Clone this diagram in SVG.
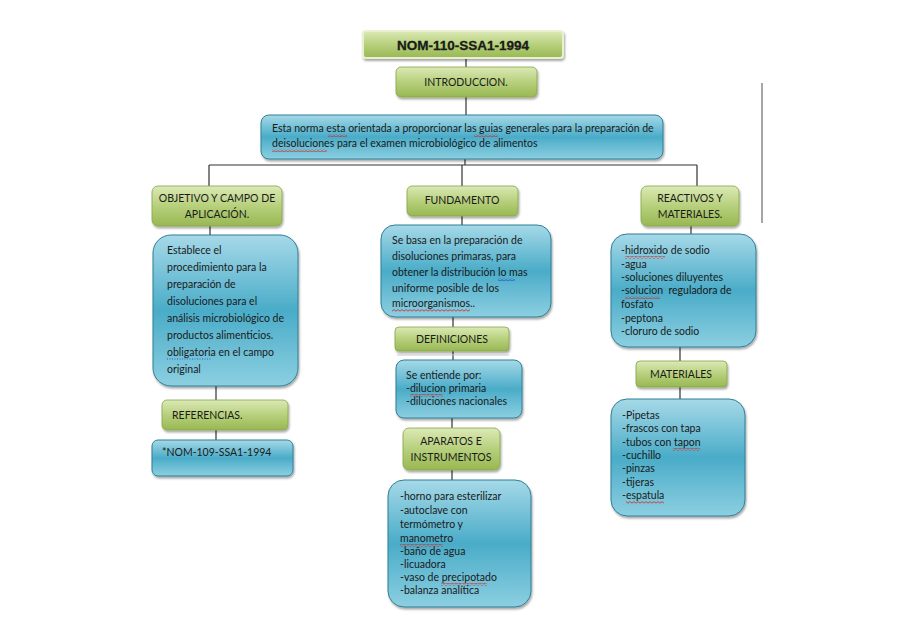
<svg xmlns="http://www.w3.org/2000/svg" width="906" height="640" viewBox="0 0 906 640">
<defs>
<linearGradient id="gG" x1="0" y1="0" x2="0" y2="1">
<stop offset="0" stop-color="#dce9b6"/>
<stop offset="0.5" stop-color="#b7d07c"/>
<stop offset="1" stop-color="#98b853"/>
</linearGradient>
<linearGradient id="gB" x1="0" y1="0" x2="0" y2="1">
<stop offset="0" stop-color="#a6d9e8"/>
<stop offset="0.5" stop-color="#4aacc8"/>
<stop offset="1" stop-color="#8ccfe1"/>
</linearGradient>
<filter id="sh" x="-10%" y="-10%" width="120%" height="130%">
<feDropShadow dx="1" dy="2" stdDeviation="1.2" flood-color="#000" flood-opacity="0.35"/>
</filter>
<pattern id="sqR" width="4" height="3" patternUnits="userSpaceOnUse">
<path d="M0 2.2L2 0.6L4 2.2" fill="none" stroke="#d42020" stroke-width="0.8"/>
</pattern>
<pattern id="sqB" width="4" height="3" patternUnits="userSpaceOnUse">
<path d="M0 2.2L2 0.6L4 2.2" fill="none" stroke="#2040d0" stroke-width="0.8"/>
</pattern>
</defs>
<style>
.g{fill:url(#gG);stroke:#87a545;stroke-width:0.8;filter:url(#sh)}
.b{fill:url(#gB);stroke:#2f7f96;stroke-width:1;filter:url(#sh)}
.t{font-family:Lato,"Liberation Sans",sans-serif;font-size:10.5px;fill:#1a1a1a}
.c{text-anchor:middle}
.ln{stroke:#333;stroke-width:1.2;fill:none}
.r{fill:url(#sqR)}
.u{fill:url(#sqB)}
</style>
<rect width="906" height="640" fill="#fff"/>
<g id="connectors">
<path class="ln" d="M466 58V67M466 97V115M465 159V165M209 165H697M209 165V186M462 165V186M697 165V186"/>
<path class="ln" d="M210 226V235M216 386V400M216 430V440"/>
<path class="ln" d="M462 216V226M453 317V327M453 351V361M452 418V428M452 470V480"/>
<path class="ln" d="M691 226V235M680 347V361M680 387V399"/>
<path d="M762 83V223" stroke="#888" stroke-width="1.5"/>
</g>
<g id="title">
<rect x="363" y="31" width="200" height="27" rx="3" fill="url(#gG)" stroke="#e8f0d0" stroke-width="2" filter="url(#sh)"/>
<text class="t c" x="463" y="49.5" style="font-family:'Liberation Sans',sans-serif;font-weight:900;font-size:13.5px;stroke:#1a1a1a;stroke-width:0.3">NOM-110-SSA1-1994</text>
</g>
<g id="introduccion">
<rect class="g" x="396" y="67" width="141" height="30" rx="5"/>
<text class="t c" x="466" y="86">INTRODUCCION.</text>
</g>
<g id="intro-text">
<rect class="b" x="261" y="115" width="402" height="44" rx="8"/>
<text class="t" x="272" y="132">Esta norma esta orientada a proporcionar las guias generales para la preparación de</text>
<text class="t" x="272" y="147">deisoluciones para el examen microbiológico de alimentos</text>
<rect class="r" x="328" y="134" width="19" height="3"/>
<rect class="r" x="474" y="134" width="24" height="3"/>
<rect class="r" x="272" y="149" width="55" height="3"/>
</g>
<g id="objetivo">
<rect class="g" x="152" y="186" width="130" height="40" rx="6"/>
<text class="t c" x="217" y="202">OBJETIVO Y CAMPO DE</text>
<text class="t c" x="217" y="218">APLICACIÓN.</text>
</g>
<g id="objetivo-text">
<rect class="b" x="153" y="235" width="145" height="151" rx="18"/>
<text class="t" x="167" y="254">Establece el</text>
<text class="t" x="167" y="271">procedimiento para la</text>
<text class="t" x="167" y="288">preparación de</text>
<text class="t" x="167" y="305">disoluciones para el</text>
<text class="t" x="167" y="322">análisis microbiológico de</text>
<text class="t" x="167" y="339">productos alimenticios.</text>
<text class="t" x="167" y="356">obligatoria en el campo</text>
<text class="t" x="167" y="373">original</text>
<line x1="167" y1="359" x2="212" y2="359" stroke="#2040d0" stroke-width="0.8" stroke-dasharray="1 1.5"/>
</g>
<g id="referencias">
<rect class="g" x="162" y="400" width="126" height="30" rx="5"/>
<text class="t" x="172" y="419">REFERENCIAS.</text>
</g>
<g id="referencias-text">
<rect class="b" x="152" y="440" width="141" height="36" rx="6"/>
<text class="t" x="162" y="456">*NOM-109-SSA1-1994</text>
</g>
<g id="fundamento">
<rect class="g" x="407" y="186" width="111" height="30" rx="5"/>
<text class="t c" x="462" y="204">FUNDAMENTO</text>
</g>
<g id="fundamento-text">
<rect class="b" x="381" y="225" width="170" height="92" rx="14"/>
<text class="t" x="392" y="244">Se basa en la preparación de</text>
<text class="t" x="392" y="260">disoluciones primaras, para</text>
<text class="t" x="392" y="276">obtener la distribución lo mas</text>
<text class="t" x="392" y="292">uniforme posible de los</text>
<text class="t" x="392" y="307">microorganismos..</text>
<rect class="u" x="498" y="278" width="17" height="3"/>
<rect class="r" x="392" y="309" width="78" height="3"/>
</g>
<g id="definiciones">
<rect class="g" x="395" y="327" width="114" height="24" rx="4"/>
<text class="t c" x="452" y="343">DEFINICIONES</text>
<line x1="397" y1="355" x2="509" y2="355" stroke="#c8c8c8" stroke-width="1"/>
</g>
<g id="definiciones-text">
<rect class="b" x="396" y="360" width="126" height="58" rx="8"/>
<text class="t" x="406" y="379">Se entiende por:</text>
<text class="t" x="406" y="392">-dilucion primaria</text>
<text class="t" x="406" y="405">-diluciones nacionales</text>
<rect class="r" x="410" y="394" width="33" height="3"/>
</g>
<g id="aparatos">
<rect class="g" x="403" y="428" width="97" height="42" rx="6"/>
<text class="t c" x="451" y="445">APARATOS E</text>
<text class="t c" x="451" y="461">INSTRUMENTOS</text>
</g>
<g id="aparatos-text">
<rect class="b" x="388" y="480" width="143" height="127" rx="16"/>
<text class="t" x="400" y="500">-horno para esterilizar</text>
<text class="t" x="400" y="514">-autoclave con</text>
<text class="t" x="400" y="528">termómetro y</text>
<text class="t" x="400" y="542">manometro</text>
<text class="t" x="400" y="555">-baño de agua</text>
<text class="t" x="400" y="568">-licuadora</text>
<text class="t" x="400" y="581">-vaso de precipotado</text>
<text class="t" x="400" y="594">-balanza analítica</text>
<rect class="r" x="400" y="544" width="43" height="3"/>
<rect class="r" x="441" y="583" width="46" height="3"/>
</g>
<g id="reactivos">
<rect class="g" x="641" y="186" width="98" height="40" rx="6"/>
<text class="t c" x="690" y="202">REACTIVOS Y</text>
<text class="t c" x="690" y="218">MATERIALES.</text>
</g>
<g id="reactivos-text">
<rect class="b" x="611" y="234" width="145" height="113" rx="16"/>
<text class="t" x="621" y="254">-hidroxido de sodio</text>
<text class="t" x="621" y="268">-agua</text>
<text class="t" x="621" y="281">-soluciones diluyentes</text>
<text class="t" x="621" y="294" style="white-space:pre">-solucion  reguladora de</text>
<text class="t" x="621" y="308">fosfato</text>
<text class="t" x="621" y="322">-peptona</text>
<text class="t" x="621" y="335">-cloruro de sodio</text>
<rect class="r" x="625" y="256" width="40" height="3"/>
<rect class="r" x="625" y="296" width="35" height="3"/>
</g>
<g id="materiales">
<rect class="g" x="636" y="361" width="91" height="26" rx="4"/>
<text class="t c" x="681" y="378">MATERIALES</text>
</g>
<g id="materiales-text">
<rect class="b" x="611" y="399" width="134" height="117" rx="16"/>
<text class="t" x="622" y="419">-Pipetas</text>
<text class="t" x="622" y="432">-frascos con tapa</text>
<text class="t" x="622" y="446">-tubos con tapon</text>
<text class="t" x="622" y="459">-cuchillo</text>
<text class="t" x="622" y="472">-pinzas</text>
<text class="t" x="622" y="486">-tijeras</text>
<text class="t" x="622" y="499">-espatula</text>
<rect class="r" x="673" y="448" width="27" height="3"/>
<rect class="r" x="626" y="501" width="38" height="3"/>
</g>
</svg>
